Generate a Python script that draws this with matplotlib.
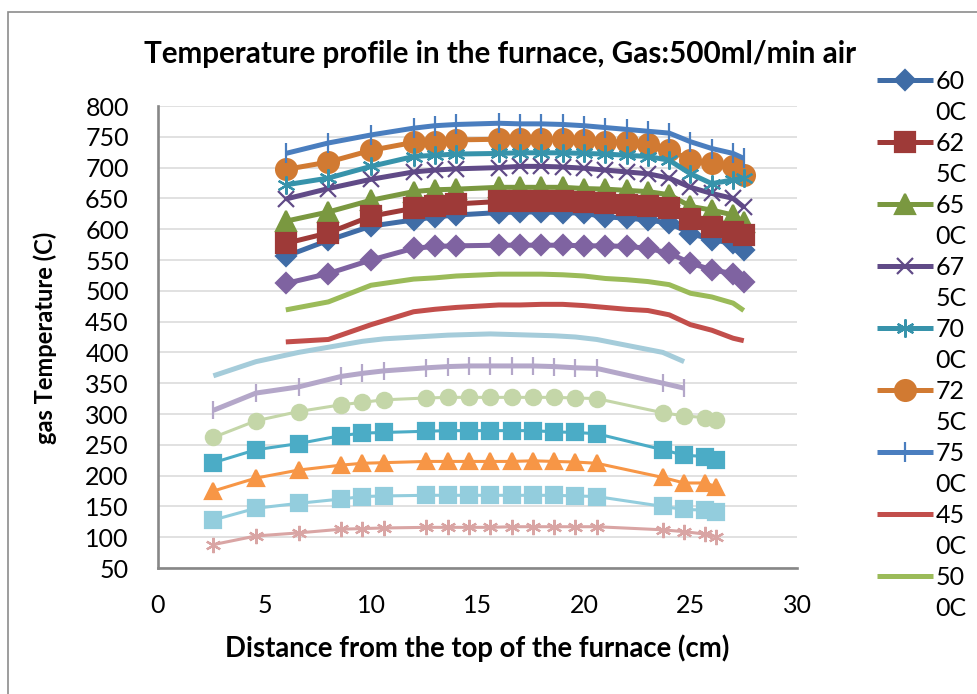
import matplotlib
matplotlib.use("Agg")
import matplotlib.pyplot as plt
from matplotlib.lines import Line2D
from matplotlib.patches import Rectangle

plt.rcParams["font.family"] = ["Lato", "DejaVu Sans"]

# distance from the top of the furnace (cm)
X_HOT = [6, 8, 10, 12, 13, 14, 16, 17, 18, 19, 20, 21, 22, 23, 24, 25, 26, 27, 27.5]
X_COOL = [2.6, 4.6, 6.6, 8.6, 9.6, 10.6, 12.6, 13.6, 14.6, 15.6, 16.6, 17.6, 18.6,
          19.6, 20.6, 23.7, 24.7, 25.7, 26.2]

# gas temperature (C) per furnace set point
T600 = [556, 582, 605, 615, 620, 623, 627, 628, 628, 627, 626, 620, 618, 615, 610, 593, 583, 577, 567]
T625 = [577, 594, 621, 634, 638, 641, 645, 645, 645, 645, 644, 642, 639, 637, 634, 616, 603, 596, 591]
T650 = [613, 628, 647, 661, 664, 665, 668, 668, 668, 668, 666, 665, 663, 661, 656, 637, 631, 623, 612]
T675 = [649, 666, 681, 693, 696, 698, 700, 702, 702, 701, 699, 696, 693, 690, 683, 668, 658, 650, 636]
T700 = [672, 683, 702, 718, 720, 722, 723, 724, 724, 724, 723, 722, 720, 718, 712, 690, 674, 680, 683]
T725 = [697, 709, 728, 741, 742, 745, 746, 746, 746, 746, 745, 742, 741, 739, 729, 712, 708, 702, 688]
T750 = [723, 740, 753, 764, 768, 770, 772, 771, 771, 770, 768, 765, 762, 759, 756, 742, 731, 723, 715]
T450 = [417, 421, 445, 466, 470, 473, 477, 477, 478, 478, 476, 473, 470, 468, 461, 445, 436, 423, 419]
T500 = [469, 482, 509, 519, 521, 524, 527, 527, 527, 526, 524, 520, 518, 515, 510, 496, 490, 480, 468]
T550 = [512, 528, 550, 569, 572, 573, 574, 574, 574, 574, 573, 573, 572, 569, 561, 545, 534, 528, 515]
T400 = [362, 385, 400, 412, 418, 422, 426, 428, 429, 430, 429, 428, 427, 425, 421, 400, 385]
T350 = [306, 334, 344, 361, 366, 370, 375, 377, 378, 378, 378, 378, 377, 375, 374, 350, 342]
T300 = [262, 289, 304, 315, 319, 323, 326, 327, 327, 327, 327, 327, 327, 326, 325, 302, 297, 294, 290]
T250 = [221, 242, 252, 265, 269, 270, 272, 273, 273, 273, 273, 273, 271, 270, 268, 242, 233, 231, 226]
T200 = [175, 196, 209, 217, 220, 221, 223, 223, 223, 223, 223, 224, 223, 222, 220, 197, 188, 188, 182]
T150 = [128, 147, 155, 162, 166, 167, 168, 168, 168, 168, 168, 168, 168, 167, 166, 150, 145, 144, 141]
T100 = [88, 102, 107, 113, 114, 115, 116, 116, 116, 116, 117, 117, 117, 117, 117, 112, 109, 105, 101]

LEGEND_LABELS = ["60\n0C", "62\n5C", "65\n0C", "67\n5C", "70\n0C", "72\n5C", "75\n0C", "45\n0C", "50\n0C"]

ASTER = (6, 2, 0)
# (x, y, colour, marker, markersize, linewidth, zorder, legend label or None)
SERIES = [
    (X_HOT, T600, "#3F6CA6", "D", 10.5, 3.6, 3, LEGEND_LABELS[0]),
    (X_HOT, T625, "#9E3A38", "s", 14, 3.6, 5, LEGEND_LABELS[1]),
    (X_HOT, T650, "#7A9840", "^", 15, 3.6, 4, LEGEND_LABELS[2]),
    (X_HOT, T675, "#604A87", "x", 11, 3.6, 3, LEGEND_LABELS[3]),
    (X_HOT, T700, "#3793AB", ASTER, 13, 3.6, 5, LEGEND_LABELS[4]),
    (X_HOT, T725, "#D17A32", "o", 15, 3.6, 4, LEGEND_LABELS[5]),
    (X_HOT, T750, "#4A7EBF", "|", 15, 3.6, 6, LEGEND_LABELS[6]),
    (X_HOT, T450, "#C24E4B", None, 0, 3.6, 3, LEGEND_LABELS[7]),
    (X_HOT, T500, "#9BBB59", None, 0, 3.6, 3, LEGEND_LABELS[8]),
    (X_HOT, T550, "#7F63A1", "D", 10, 3.6, 3, None),
    (X_COOL[:17], T400, "#A5CCDA", None, 0, 3.6, 3, None),
    (X_COOL[:17], T350, "#B4A7C9", "|", 13, 3.6, 3, None),
    (X_COOL, T300, "#C4D6A8", "o", 11, 2.2, 3, None),
    (X_COOL, T250, "#4BACC6", "s", 11, 2.2, 3, None),
    (X_COOL, T200, "#F79646", "^", 11.5, 2.2, 3, None),
    (X_COOL, T150, "#93CDDD", "s", 11, 2.2, 3, None),
    (X_COOL, T100, "#D9A5A4", ASTER, 11, 2.2, 3, None),
]

fig = plt.figure(figsize=(9.78, 6.94), dpi=100)
ax = fig.add_axes([158 / 978, 1 - 568 / 694, 639 / 978, 462 / 694])

handles, labels = [], []
for x, y, col, mk, ms, lw, z, lab in SERIES:
    style = dict(color=col, lw=lw, marker=mk, ms=ms, mfc=col, mec=col,
                 mew=1.6, solid_joinstyle="round", solid_capstyle="butt")
    ax.plot(x, y, zorder=z, **style)
    if lab is not None:
        h = Line2D([], [], **style)
        top, bottom = lab.split("\n")
        handles += [h, Line2D([], [], linestyle="None")]
        labels += [top, bottom]

ax.set_xlim(0, 30)
ax.set_ylim(50, 800)
ax.set_xticks(range(0, 31, 5))
ax.set_yticks(range(50, 801, 50))
ax.tick_params(length=0, labelsize=18, colors="black")
ax.tick_params(axis="y", pad=21)
ax.tick_params(axis="x", pad=19)
ax.grid(axis="y", color="#D9D9D9", lw=1.1)
ax.set_axisbelow(True)
for s in ("top", "right"):
    ax.spines[s].set_visible(False)
for s in ("left", "bottom"):
    ax.spines[s].set_color("#878787")
    ax.spines[s].set_linewidth(1.9)

fig.text(0.511, 1 - 63 / 694, "Temperature profile in the furnace, Gas:500ml/min air",
         ha="center", va="baseline", fontsize=21.3, weight="bold")
fig.text(477 / 978, 1 - 648 / 694, "Distance from the top of the furnace (cm)",
         ha="center", va="center", fontsize=19.8, weight="bold")
fig.text(45 / 978, 1 - 338 / 694, "gas Temperature (C)", rotation=90,
         ha="center", va="center", fontsize=17, weight="bold")

ax.legend(handles, labels, loc="upper left", bbox_to_anchor=(877 / 978, 1 - 70 / 694),
          bbox_transform=fig.transFigure, frameon=False, fontsize=18, numpoints=1,
          handlelength=2.25, handletextpad=0.1, labelspacing=0.32, borderpad=0,
          borderaxespad=0)

fig.patches.append(Rectangle((8 / 978, -0.1), 1.2, 1.1 - 12 / 694, transform=fig.transFigure,
                             fill=False, ec="#8C8C8C", lw=1.2))

fig.savefig("out.png", dpi=100, facecolor="white")
